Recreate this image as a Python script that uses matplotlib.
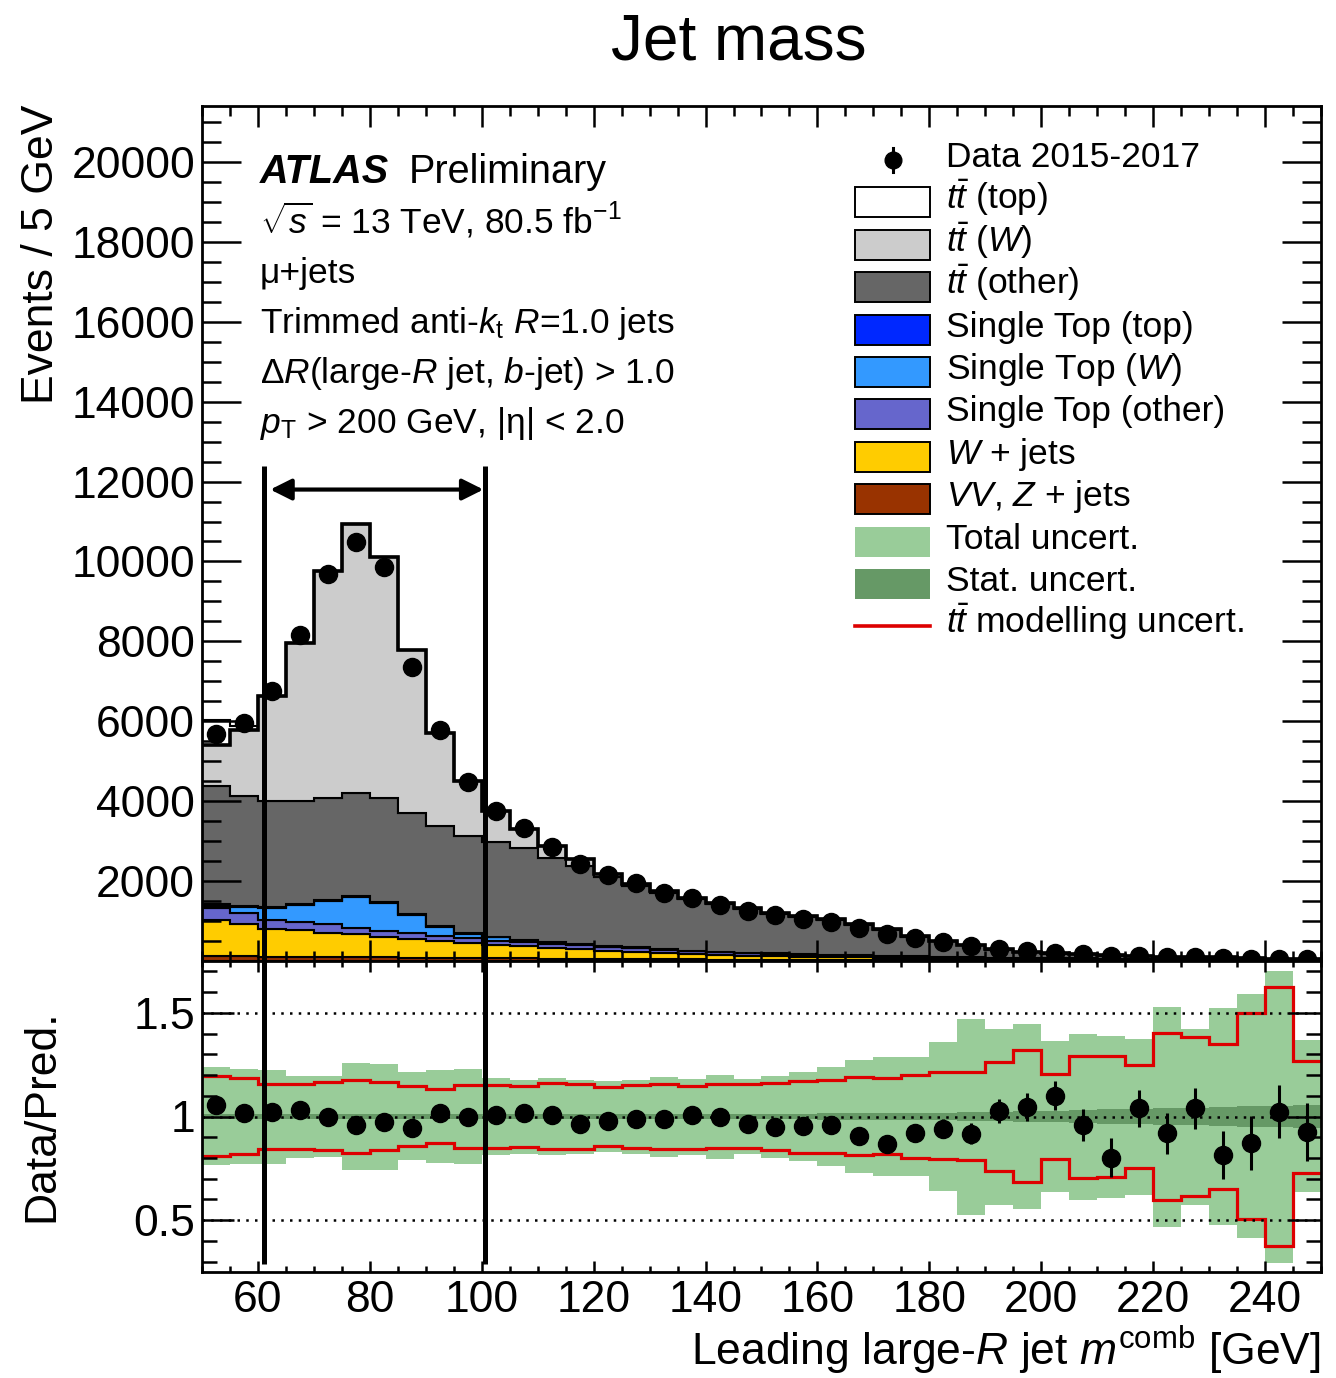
import numpy as np
import matplotlib
matplotlib.use("Agg")
import matplotlib.pyplot as plt
from matplotlib.patches import Rectangle
from matplotlib.lines import Line2D
from matplotlib.ticker import MultipleLocator

plt.rcParams['font.family'] = ['Liberation Sans', 'DejaVu Sans']
plt.rcParams['mathtext.fontset'] = 'custom'
plt.rcParams['mathtext.rm'] = 'Liberation Sans'
plt.rcParams['mathtext.it'] = 'Liberation Sans:italic'
plt.rcParams['mathtext.bf'] = 'Liberation Sans:bold'

# ---- data (40 bins of 5 GeV, 50-250 GeV) ----
bin_edges = np.arange(50, 251, 5)

data = [5684, 5959, 6760, 8162, 9690, 10490, 9865, 7361, 5784, 4482,
        3756, 3330, 2862, 2428, 2153, 1953, 1703, 1577, 1402, 1252,
        1152, 1052, 976, 826, 676, 576, 476, 376, 300, 240,
        210, 165, 115, 125, 100, 100, 72, 60, 60, 50]

vvz = [120, 115, 110, 105, 100, 95, 90, 85, 80, 75,
       70, 65, 60, 55, 50, 46, 42, 38, 35, 32,
       29, 26, 24, 22, 20, 18, 16, 14, 12, 11,
       10, 9, 8, 7, 6, 5, 5, 4, 4, 3]
wjets = [900, 820, 685, 665, 610, 570, 510, 460, 420, 385,
         330, 310, 275, 240, 200, 190, 167, 130, 115, 105,
         95, 86, 78, 70, 63, 57, 51, 46, 41, 37,
         33, 30, 27, 24, 21, 19, 17, 15, 13, 12]
st_other = [300, 260, 225, 215, 225, 150, 150, 145, 125, 110,
            110, 105, 100, 95, 88, 80, 75, 70, 65, 60,
            55, 50, 46, 42, 38, 35, 32, 29, 26, 24,
            22, 20, 18, 16, 14, 13, 12, 11, 10, 9]
st_w = [55, 155, 300, 415, 565, 785, 710, 460, 225, 110,
        85, 45, 32, 25, 20, 18, 15, 12, 10, 9,
        8, 7, 6, 5, 5, 4, 4, 3, 3, 3,
        2, 2, 2, 2, 1, 1, 1, 1, 1, 1]
st_top = [40, 30, 25, 25, 25, 25, 20, 20, 15, 15,
          12, 10, 10, 8, 8, 8, 7, 7, 6, 6,
          6, 5, 5, 5, 4, 4, 4, 3, 3, 3,
          3, 2, 2, 2, 2, 2, 1, 1, 1, 1]
tt_other = [2967, 2751, 2661, 2581, 2564, 2589, 2609, 2544, 2515, 2435,
            2373, 2303, 2110, 1956, 1740, 1526, 1397, 1284, 1190, 1089,
            987, 925, 859, 752, 643, 491, 382, 301, 195, 142,
            112, 101, 80, 63, 60, 51, 48, 33, 27, 25]
tt_w = [1031, 1659, 2621, 3944, 5661, 6719, 6026, 4073, 2320, 1377,
        776, 459, 292, 175, 80, 60, 50, 45, 40, 35,
        30, 28, 25, 22, 20, 18, 16, 14, 12, 10,
        9, 8, 7, 6, 5, 5, 4, 4, 3, 3]
tt_top = [620, 80, 0, 0, 0, 0, 0, 0, 0, 0,
          0, 0, 0, 0, 0, 0, 0, 0, 0, 0,
          0, 0, 0, 0, 0, 0, 0, 0, 0, 0,
          0, 0, 0, 0, 0, 0, 0, 0, 0, 0]

ratio = [1.055, 1.018, 1.023, 1.029, 0.997, 0.958, 0.974, 0.945, 1.018, 0.997,
         1.006, 1.015, 1.005, 0.966, 0.979, 0.989, 0.989, 1.005, 0.997, 0.964,
         0.947, 0.955, 0.958, 0.906, 0.866, 0.919, 0.942, 0.917, 1.028, 1.045,
         1.100, 0.960, 0.801, 1.040, 0.919, 1.039, 0.814, 0.871, 1.024, 0.926]
ratio_err = [0.013, 0.013, 0.012, 0.011, 0.010, 0.010, 0.010, 0.012, 0.013, 0.015,
             0.016, 0.017, 0.019, 0.020, 0.021, 0.023, 0.024, 0.025, 0.027, 0.028,
             0.029, 0.031, 0.032, 0.035, 0.038, 0.042, 0.046, 0.052, 0.058, 0.066,
             0.069, 0.078, 0.095, 0.090, 0.100, 0.100, 0.117, 0.130, 0.130, 0.140]
tot_up = [1.238, 1.230, 1.225, 1.197, 1.194, 1.257, 1.254, 1.214, 1.225, 1.230,
          1.186, 1.178, 1.184, 1.178, 1.173, 1.178, 1.189, 1.181, 1.202, 1.181,
          1.197, 1.217, 1.241, 1.273, 1.286, 1.286, 1.359, 1.472, 1.424, 1.445,
          1.362, 1.400, 1.388, 1.375, 1.529, 1.424, 1.521, 1.589, 1.704, 1.367]
tot_dn = [0.764, 0.773, 0.773, 0.798, 0.804, 0.741, 0.741, 0.788, 0.777, 0.769,
          0.812, 0.817, 0.812, 0.820, 0.828, 0.817, 0.806, 0.812, 0.793, 0.817,
          0.801, 0.785, 0.761, 0.728, 0.712, 0.712, 0.639, 0.526, 0.571, 0.553,
          0.634, 0.599, 0.607, 0.623, 0.469, 0.574, 0.477, 0.413, 0.294, 0.634]
stat_err = [0.012, 0.012, 0.012, 0.012, 0.012, 0.012, 0.012, 0.012, 0.012, 0.012,
            0.012, 0.012, 0.012, 0.012, 0.012, 0.013, 0.013, 0.013, 0.013, 0.013,
            0.014, 0.014, 0.015, 0.015, 0.016, 0.017, 0.018, 0.020, 0.022, 0.025,
            0.028, 0.031, 0.034, 0.037, 0.040, 0.043, 0.046, 0.050, 0.053, 0.055]
mod_up = [1.194, 1.184, 1.157, 1.157, 1.165, 1.178, 1.165, 1.149, 1.133, 1.152,
          1.152, 1.149, 1.162, 1.155, 1.144, 1.152, 1.157, 1.149, 1.155, 1.155,
          1.162, 1.173, 1.178, 1.189, 1.186, 1.201, 1.214, 1.214, 1.265, 1.322,
          1.206, 1.294, 1.291, 1.246, 1.403, 1.383, 1.348, 1.497, 1.623, 1.270]
mod_dn = [0.809, 0.820, 0.845, 0.845, 0.837, 0.825, 0.838, 0.858, 0.871, 0.850,
          0.850, 0.853, 0.841, 0.841, 0.858, 0.850, 0.845, 0.841, 0.850, 0.850,
          0.838, 0.825, 0.825, 0.812, 0.820, 0.801, 0.793, 0.788, 0.736, 0.683,
          0.793, 0.704, 0.709, 0.752, 0.599, 0.618, 0.650, 0.505, 0.377, 0.728]

window_lo, window_hi = 61.0, 100.6

# ---- figure ----
W, H = 1336, 1378
fig = plt.figure(figsize=(W / 100, H / 100), dpi=100)

def fx(px):
    return px / W

def fy(py):
    return 1 - py / H

ax1 = fig.add_axes([fx(202), fy(961), fx(1321) - fx(202), fy(106) - fy(961)])
ax2 = fig.add_axes([fx(202), fy(1272), fx(1321) - fx(202), fy(961) - fy(1272)])

centers = 0.5 * (bin_edges[1:] + bin_edges[:-1])

# stacked backgrounds
layers = [(vvz, '#993300'), (wjets, '#FFCC00'), (st_other, '#6666CC'),
          (st_w, '#3399FF'), (st_top, '#0028FF'), (tt_other, '#666666'),
          (tt_w, '#CCCCCC')]
bottom = np.zeros(len(centers))
for vals, col in layers:
    top = bottom + np.array(vals)
    ax1.stairs(top, bin_edges, baseline=bottom, fill=True, facecolor=col,
               edgecolor='black', linewidth=1.5)
    bottom = top
total = bottom
ax1.stairs(total + np.array(tt_top), bin_edges, baseline=total, fill=True,
           facecolor='white', edgecolor='black', linewidth=1.5)
ax1.stairs(total, bin_edges, baseline=None, color='black', linewidth=2.6)
ax1.plot(centers, data, 'o', color='black', ms=13, zorder=5)

ymax1 = 21400
ax1.set_xlim(50, 250)
ax1.set_ylim(0, ymax1)

# window lines and arrow
for xv in (window_lo, window_hi):
    ax1.axvline(xv, ymin=0, ymax=12400 / ymax1, color='black', lw=3.6, solid_capstyle='butt', zorder=6)
    ax2.axvline(xv, ymin=(0.29 - 0.25) / 1.5, ymax=1, color='black', lw=3.6, solid_capstyle='butt', zorder=6)
ax1.annotate('', xy=(100.3, 11800), xytext=(62.2, 11800),
             arrowprops=dict(arrowstyle='<|-|>', color='black', lw=3, mutation_scale=32,
                             shrinkA=0, shrinkB=0))

# ratio panel
ax2.stairs(tot_up, bin_edges, baseline=tot_dn, fill=True, color='#99CC99', linewidth=0)
ax2.stairs(1 + np.array(stat_err), bin_edges, baseline=1 - np.array(stat_err), fill=True,
           color='#669966', linewidth=0)
ax2.stairs(mod_up, bin_edges, baseline=None, color='#DD0000', linewidth=2.3)
ax2.stairs(mod_dn, bin_edges, baseline=None, color='#DD0000', linewidth=2.3)
for yv in (0.5, 1.0, 1.5):
    ax2.axhline(yv, color='black', ls=(0, (1, 2.5)), lw=1.8)
ax2.errorbar(centers, ratio, yerr=ratio_err, fmt='o', color='black', ms=13,
             elinewidth=2.2, capsize=0, zorder=5)
ax2.set_xlim(50, 250)
ax2.set_ylim(0.25, 1.75)

# ticks
for ax in (ax1, ax2):
    ax.xaxis.set_major_locator(MultipleLocator(20))
    ax.xaxis.set_minor_locator(MultipleLocator(5))
    ax.tick_params(which='both', direction='in', top=True, right=True, width=1.8,
                   labelsize=32)
    for sp in ax.spines.values():
        sp.set_linewidth(2)

ax1.set_yticks(np.arange(2000, 20001, 2000))
ax1.yaxis.set_minor_locator(MultipleLocator(500))
ax1.tick_params(axis='x', labelbottom=False)
ax1.tick_params(axis='x', which='major', length=15)
ax1.tick_params(axis='x', which='minor', length=7.5)
ax1.tick_params(axis='y', which='major', length=28, pad=5)
ax1.tick_params(axis='y', which='minor', length=14)

ax2.set_yticks([0.5, 1.0, 1.5])
ax2.set_yticklabels(['0.5', '1', '1.5'])
ax2.yaxis.set_minor_locator(MultipleLocator(0.1))
ax2.tick_params(axis='x', which='major', length=8, pad=6)
ax2.tick_params(axis='x', which='minor', length=4)
ax2.tick_params(axis='y', which='major', length=23, pad=5)
ax2.tick_params(axis='y', which='minor', length=11)

# titles and labels
fig.text(fx(739), fy(60), 'Jet mass', fontsize=46, ha='center', va='baseline')
fig.text(fx(42), fy(254), 'Events / 5 GeV', fontsize=32, rotation=90, ha='center', va='center')
fig.text(fx(42), fy(1116), 'Data/Pred.', fontsize=32, rotation=90, ha='center', va='center')
fig.text(fx(1321), fy(1365), r'Leading large-$R$ jet $m^{\mathrm{comb}}$ [GeV]', fontsize=32,
         ha='right', va='baseline')

# ATLAS label block
fig.text(fx(260), fy(183), 'ATLAS', fontsize=28.5, fontweight='bold', fontstyle='italic', va='baseline')
fig.text(fx(409), fy(183), 'Preliminary', fontsize=28.5, va='baseline')
info = [r'$\sqrt{s}$ = 13 TeV, 80.5 fb$^{-1}$',
        'μ+jets',
        r'Trimmed anti-$k_{\mathrm{t}}$ $R$=1.0 jets',
        r'Δ$R$(large-$R$ jet, $b$-jet) > 1.0',
        r'$p_{\mathrm{T}}$ > 200 GeV, |η| < 2.0']
for i, line in enumerate(info):
    fig.text(fx(260), fy(233 + 50 * i), line, fontsize=25.5, va='baseline')

# legend
leg = [('Data 2015-2017', 'data', None),
       (r'$t\bar{t}$ (top)', 'box', 'white'),
       (r'$t\bar{t}$ ($W$)', 'box', '#CCCCCC'),
       (r'$t\bar{t}$ (other)', 'box', '#666666'),
       ('Single Top (top)', 'box', '#0028FF'),
       (r'Single Top ($W$)', 'box', '#3399FF'),
       ('Single Top (other)', 'box', '#6666CC'),
       (r'$W$ + jets', 'box', '#FFCC00'),
       (r'$VV$, $Z$ + jets', 'box', '#993300'),
       ('Total uncert.', 'band', '#99CC99'),
       ('Stat. uncert.', 'band', '#669966'),
       (r'$t\bar{t}$ modelling uncert.', 'line', '#DD0000')]
for i, (lab, kind, col) in enumerate(leg):
    base = 167 + 42.4 * i
    mid = base - 7
    if kind == 'data':
        fig.add_artist(Line2D([fx(893)], [fy(mid)], marker='o', ms=12, color='black',
                              transform=fig.transFigure))
        fig.add_artist(Line2D([fx(893), fx(893)], [fy(mid - 12), fy(mid + 12)], color='black',
                              lw=2.2, transform=fig.transFigure))
    elif kind == 'line':
        fig.add_artist(Line2D([fx(855), fx(930)], [fy(mid), fy(mid)], color=col, lw=2.6,
                              transform=fig.transFigure))
    else:
        ec = 'black' if kind == 'box' else 'none'
        fig.add_artist(Rectangle((fx(855), fy(mid + 15)), 75 / W, 30 / H, facecolor=col,
                                 edgecolor=ec, lw=1.4, transform=fig.transFigure))
    fig.text(fx(946), fy(base), lab, fontsize=25.5, va='baseline')

fig.savefig('out.png', dpi=100)
